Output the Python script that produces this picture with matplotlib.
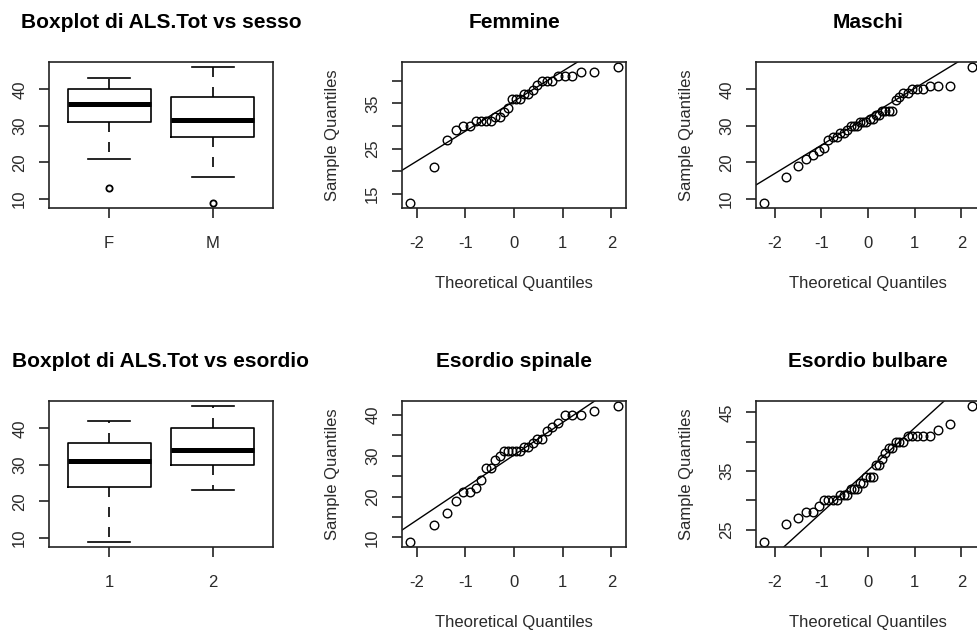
import numpy as np
import matplotlib
matplotlib.use("Agg")
import matplotlib.pyplot as plt
from statistics import NormalDist

plt.rcParams['font.family'] = ['Liberation Sans', 'DejaVu Sans']
plt.rcParams['axes.unicode_minus'] = False

# ALS.Tot scores (sorted)
femmine = [13, 21, 27, 29, 30, 30, 31, 31, 31, 31, 32, 32, 33, 34, 36,
           36, 36, 37, 37, 38, 39, 40, 40, 40, 41, 41, 41, 42, 42, 43]
maschi = [9, 16, 19, 21, 22, 23, 24, 26, 27, 27, 28, 28, 29, 30, 30, 30,
          31, 31, 31, 32, 32, 33, 33, 34, 34, 34, 34, 37, 38, 39, 39, 40,
          40, 40, 41, 41, 41, 46]
spinale = [9, 13, 16, 19, 21, 21, 22, 24, 27, 27, 29, 30, 31, 31, 31, 31,
           31, 32, 32, 33, 34, 34, 36, 37, 38, 40, 40, 40, 41, 42]
bulbare = [23, 26, 27, 28, 28, 29, 30, 30, 30, 30, 31, 31, 31, 32, 32, 32,
           33, 33, 34, 34, 34, 36, 36, 37, 38, 39, 39, 40, 40, 40, 41, 41,
           41, 41, 41, 42, 43, 46]

sesso_labels = ['F', 'M']
esordio_labels = ['1', '2']

W, H = 977, 635
fig = plt.figure(figsize=(W / 100, H / 100), dpi=100)

TXT = '#2a2a2a'
LW = 1.2


def make_ax(x0, y0, w=224, h=146):
    ax = fig.add_axes([x0 / W, 1 - (y0 + h) / H, w / W, h / H])
    for s in ax.spines.values():
        s.set_linewidth(LW)
        s.set_color('#222222')
    ax.tick_params(direction='out', length=7.2, width=LW, color='#222222',
                   labelsize=12, labelcolor=TXT)
    ax.tick_params(axis='x', pad=13)
    ax.tick_params(axis='y', pad=8.5)
    return ax


def set_yticks(ax, ticks, labelled):
    ax.set_yticks(ticks)
    ax.set_yticklabels([str(t) if t in labelled else '' for t in ticks],
                       rotation=90, va='center')


def pad_range(lo, hi):
    r = hi - lo
    return lo - 0.04 * r, hi + 0.04 * r


def fivenum(x):
    x = np.sort(np.asarray(x, dtype=float))
    n = len(x)
    n4 = np.floor((n + 3) / 2) / 2
    d = np.array([1, n4, (n + 1) / 2, n + 1 - n4, n]) - 1
    return 0.5 * (x[np.floor(d).astype(int)] + x[np.ceil(d).astype(int)])


def box_stats(x, label):
    lo, q1, med, q3, hi = fivenum(x)
    iqr = q3 - q1
    x = np.asarray(x)
    inside = x[(x >= q1 - 1.5 * iqr) & (x <= q3 + 1.5 * iqr)]
    return dict(med=med, q1=q1, q3=q3, whislo=inside.min(), whishi=inside.max(),
                fliers=x[(x < q1 - 1.5 * iqr) | (x > q3 + 1.5 * iqr)], label=label)


def boxplot_panel(ax, groups, labels, title):
    stats = [box_stats(g, l) for g, l in zip(groups, labels)]
    ax.bxp(stats, positions=[1, 2], widths=0.8, capwidths=0.4,
           boxprops=dict(color='black', lw=LW),
           medianprops=dict(color='black', lw=3.6, solid_capstyle='butt'),
           whiskerprops=dict(color='black', lw=LW, linestyle=(0, (6, 6))),
           capprops=dict(color='black', lw=LW),
           flierprops=dict(marker='o', markersize=4.5, markerfacecolor='none',
                           markeredgecolor='black', markeredgewidth=1.3))
    allv = np.concatenate(groups)
    ax.set_xlim(0.42, 2.58)
    ax.set_ylim(*pad_range(allv.min(), allv.max()))
    set_yticks(ax, [10, 20, 30, 40], [10, 20, 30, 40])
    ax.set_title(title, fontsize=15, fontweight='bold', pad=24.5, color='black')


def qq_panel(ax, data, title, yticks, ylabelled):
    y = np.sort(np.asarray(data, dtype=float))
    n = len(y)
    a = 3 / 8 if n <= 10 else 0.5
    nd = NormalDist()
    x = np.array([nd.inv_cdf((i - a) / (n + 1 - 2 * a)) for i in range(1, n + 1)])
    ax.plot(x, y, 'o', markersize=6.2, markerfacecolor='none',
            markeredgecolor='black', markeredgewidth=1.0)
    q1, q3 = np.percentile(y, [25, 75])
    z1, z3 = nd.inv_cdf(0.25), nd.inv_cdf(0.75)
    ax.axline((z1, q1), (z3, q3), color='black', lw=1.0)
    ax.set_xlim(x.min() * 1.08, x.max() * 1.08)
    ax.set_ylim(*pad_range(y.min(), y.max()))
    ax.set_xticks([-2, -1, 0, 1, 2])
    set_yticks(ax, yticks, ylabelled)
    ax.set_title(title, fontsize=15, fontweight='bold', pad=24.5, color='black')
    ax.set_xlabel('Theoretical Quantiles', fontsize=12, color=TXT)
    ax.set_ylabel('Sample Quantiles', fontsize=12, color=TXT)
    ax.xaxis.set_label_coords(0.5, -68 / 146)
    ax.yaxis.set_label_coords(-62 / 224, 0.5)


cols = [49, 402, 756]
rows = [62, 401]

ax = make_ax(cols[0], rows[0])
boxplot_panel(ax, [femmine, maschi], sesso_labels, 'Boxplot di ALS.Tot vs sesso')
ax = make_ax(cols[1], rows[0])
qq_panel(ax, femmine, 'Femmine', [15, 20, 25, 30, 35, 40], [15, 25, 35])
ax = make_ax(cols[2], rows[0])
qq_panel(ax, maschi, 'Maschi', [10, 20, 30, 40], [10, 20, 30, 40])

ax = make_ax(cols[0], rows[1])
boxplot_panel(ax, [spinale, bulbare], esordio_labels, 'Boxplot di ALS.Tot vs esordio')
ax = make_ax(cols[1], rows[1])
qq_panel(ax, spinale, 'Esordio spinale', [10, 15, 20, 25, 30, 35, 40], [10, 20, 30, 40])
ax = make_ax(cols[2], rows[1])
qq_panel(ax, bulbare, 'Esordio bulbare', [25, 30, 35, 40, 45], [25, 35, 45])

fig.savefig('out.png', dpi=100)
